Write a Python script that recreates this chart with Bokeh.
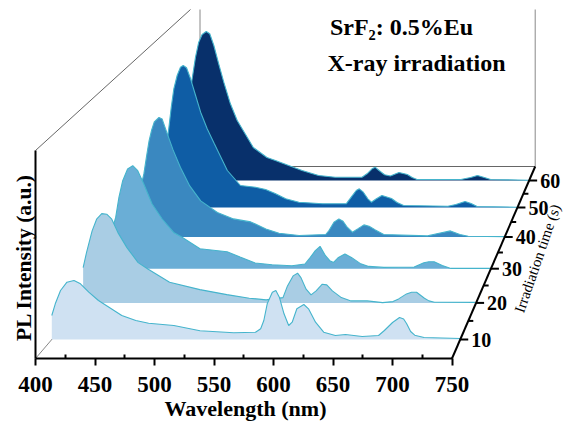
from bokeh.plotting import figure
from bokeh.models import LinearAxis, FixedTicker, Range1d
from bokeh.core.properties import value
from bokeh.embed import file_html
from bokeh.resources import INLINE
import numpy as np

times = [10, 20, 30, 40, 50, 60]
wl_10 = [400,403,407.5,413,419,424.6,431.7,440,449,460,472,483,504.6,527,556,574.6,579,581.7,584.6,589,592,595,599,603,606,610,616,620,626,633,643,651.7,666,680,685,692,698,701.5,704,707.5,711,719,750]
in_10 = [24,35.7,49,57.3,59,55.7,47.3,39,32.3,24,19,16.3,14,8.7,6.7,7.3,10.7,19,35.7,47.3,49,42.3,25.7,14,17.3,30.7,35,30.7,17.3,7.3,4,5,3,4,9,17,22,20.5,16,8,4.3,2,1]
wl_20 = [400,403,408,412,416.6,421,425.5,431,439,449,458,477,504,528,548,563,578,582,587,591,594,598.6,603,607.5,613,617,622,630,638.6,653,666.7,676,681,688,692.5,697,704,708,713,749]
in_20 = [35.3,50.3,72,83.7,89.3,88.7,83.7,70.3,55.3,40.3,33.7,20.7,13.3,8.3,4.7,3,5.3,17,27,29.7,25.3,13.7,8,12,18.7,18,12,5.3,2,2,.3,1.3,4,9,10.7,10.7,4.7,2,.7,.5]
wl_30 = [400,403,406,409.5,414,418.8,423.4,429,436.7,446,456.6,464,481,506,518,532,547.6,566,578,583,587.6,592,597,601,604.5,609,615,621,629,637,651,679,688,692.6,697.5,705,713,750]
in_30 = [40,51.3,71.3,88,99.7,103,98,84.7,64.7,49.7,36.3,31.7,20,17,11.7,5.7,4,3,4.7,11.3,18,22.3,13,8,6.3,11.3,14.7,11.3,5.3,2.3,1.3,1.7,6,7,7,3.3,.3,.3]
wl_40 = [400,404,406.5,409,411.5,414,418.5,421.5,426.5,432,439,448,458.5,474.5,490,506.5,511,521,533.6,552.8,578.4,581.5,586.3,591,595,599,604,609,615,620,626,634,676,686,698,707,715,750]
in_40 = [45,63,80,96,107,115,119.5,118,103,87,69.7,51,36,24.4,18,15,13,8,3.7,1.4,2.4,6.4,14.7,18,15.7,9.7,4.7,8,12,10.7,7,2.4,1,3.4,6,2.4,.7,.3]
wl_50 = [400,404,406.3,408.9,412.2,415.5,418.2,421.5,425.5,430.5,435.5,442,449,462,475,490,500,510,520,533,556.6,580,585,590,593,597,601.5,605,610,615.5,625,630.5,637,681,689,698,704,710,750]
in_50 = [50,80,100,118.7,132,140.3,142,139.7,128.7,112,95.3,78.7,64,37,22,20.3,18,13.7,8.7,5.3,3.7,3.7,10.3,17,18.7,15.3,8.7,5.3,8.7,12,9,5,2,1.3,3,6,4,1,.3]
wl_60 = [400,404,407.7,411,414.5,418.7,422.3,426.5,431.5,436.7,443.5,450.5,456.6,467,481,489.7,503.3,517,534,551,578.5,583.7,588.8,592,596,601.7,607.6,616.5,625,630,635,680,690,697,704,710.5,750]
in_60 = [70,100,123.3,138.3,146,149,146.7,135,116.7,98.3,76.7,60,50,33,23,20,15,10,5,3.3,3.3,6.7,11.7,13.3,10,5.7,4.5,8,6,3,1,1,3,5,3,1,.3]
spectra = [(wl_10,in_10),(wl_20,in_20),(wl_30,in_30),(wl_40,in_40),(wl_50,in_50),(wl_60,in_60)]
fills = ["#cfe1f2","#a9cde4","#6aaed6","#3a88c0","#0f5da5","#08306b"]
wl_ticks = [400,450,500,550,600,650,700,750]
wl_minor = [425,475,525,575,625,675,725]
time_minor = [15,25,35,45,55]

W, H = 566, 424
def fy(t):
    return 339 - 3.48*(t-10) + 0.012*(t-10)*(t-35)
Y0 = 358; YB = 166; XL0 = 35; XLB = 199.5; XR0 = 451.5; XRB = 534.7
def xl(y): return XL0 + (Y0-y)*(XLB-XL0)/(Y0-YB)
def xr(y): return XR0 + (Y0-y)*(XRB-XR0)/(Y0-YB)

p = figure(width=W, height=H, output_backend="svg", toolbar_location=None,
           x_range=Range1d(0, W), y_range=Range1d(H, 0), min_border=0,
           x_axis_type=None, y_axis_type=None, outline_line_color=None)
p.grid.visible = False

SERIF = "Liberation Serif"
k = 350/(XR0-XL0)
p.extra_x_ranges["wl"] = Range1d(400-XL0*k, 400+(W-XL0)*k)
ax = LinearAxis(x_range_name="wl", fixed_location=Y0, bounds=(400,750),
                ticker=FixedTicker(ticks=wl_ticks, minor_ticks=wl_minor))
ax.axis_line_width = 2; ax.major_tick_line_width = 2; ax.minor_tick_line_width = 2
ax.axis_line_color = "black"; ax.major_tick_line_color = "black"; ax.minor_tick_line_color = "black"
ax.major_tick_in = 0; ax.major_tick_out = 7; ax.minor_tick_in = 4; ax.minor_tick_out = 0
ax.major_label_text_font = SERIF; ax.major_label_text_font_style = "bold"
ax.major_label_text_color = "black"
ax.major_label_text_font_size = "23px"; ax.major_label_standoff = 11
p.add_layout(ax, "below")
ay = LinearAxis(fixed_location=XL0, bounds=(150,Y0), ticker=FixedTicker(ticks=[]))
ay.axis_line_width = 2; ay.axis_line_color = "black"
p.add_layout(ay, "left")

# back walls
p.line([XL0,190],[150,9], line_color="#666666", line_width=1)
p.line([XLB,XLB],[9,YB], line_color="#888888", line_width=1)
p.line([XRB,XRB],[9,YB], line_color="#888888", line_width=1)
p.line([XL0,XLB],[Y0,YB], line_color="#888888", line_width=1)
p.line([XLB,XRB],[YB,YB], line_color="#666666", line_width=1)

# spectra, back to front
for t,(w,v),c in reversed(list(zip(times,spectra,fills))):
    y = fy(t); a = xl(y); b = xr(y)
    xs = a + (np.array(w)-400)/350*(b-a)
    ys = y - np.array(v)
    p.patch(list(xs)+[xs[-1],xs[0]], list(ys)+[y,y], fill_color=c, line_color=None)
    p.line(xs, ys, line_color="#45b4cc", line_width=1.1)

# depth axis
p.line([XR0,XRB],[Y0,YB], line_color="black", line_width=2)
for t in times:
    y = fy(t); x = xr(y)
    p.segment(x,y,x+8,y, line_color="black", line_width=2)
    p.text(x+11,y,text=[str(t)],text_font=value(SERIF),text_font_style="bold",text_font_size="20px",
           text_baseline="middle",text_align="left")
for t in time_minor:
    y = fy(t); x = xr(y)
    p.segment(x,y,x+5,y, line_color="black", line_width=2)

def label(x,y,s,size,angle=0,style="bold"):
    p.text(x,y,text=[s],text_font=value(SERIF),text_font_style=style,text_font_size=size,
           text_align="center",text_baseline="middle",angle=angle)
label(245,408,"Wavelength (nm)","22px")
label(23,257,"PL Intensity (a.u.)","21.5px",angle=np.pi/2)
label(537,258,"Irradiation time (s)","15px",angle=np.radians(71),style="normal")
label(401,26,"SrF₂: 0.5%Eu","24px")
label(416,62,"X-ray irradiation","24px")

open("out.html","w").write(file_html(p, INLINE))
